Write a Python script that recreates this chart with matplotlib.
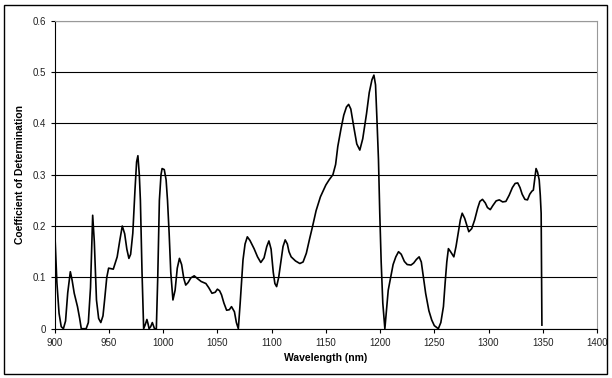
import matplotlib
matplotlib.use('Agg')
import matplotlib.pyplot as plt
from matplotlib.patches import Rectangle

plt.rcParams['font.family'] = ['Liberation Sans', 'DejaVu Sans']

wavelength = [900, 902, 904, 906, 908, 910, 912, 914.4, 916, 918, 921, 923, 924.5, 927, 929,
              931, 933, 935, 936.5, 938.5, 940.5, 942.5, 944.5, 946, 948, 949.7, 952, 954,
              957.6, 960, 962.3, 964.5, 966.5, 968.4, 970, 972, 974, 975.5, 976.7, 978, 979,
              980.5, 982, 983.5, 985, 986, 987, 988.5, 990, 991, 992, 993.7, 995, 996.5, 998,
              999, 1001, 1002.7, 1004, 1005.5, 1007, 1009, 1011, 1013, 1015, 1017, 1019, 1020.8,
              1023, 1025.5, 1028.6, 1032, 1035, 1039.4, 1042, 1045, 1048, 1050, 1052, 1053.8,
              1056, 1058.5, 1061, 1063, 1065.7, 1067.5, 1069.3, 1071, 1072.5, 1073.6, 1075.5,
              1077.6, 1080, 1083.8, 1087, 1090, 1093, 1095.5, 1097.5, 1099.5, 1101.5, 1103,
              1104.6, 1106.5, 1108.5, 1110.5, 1112.5, 1114.5, 1116, 1118, 1122, 1126, 1129,
              1132, 1135, 1137.7, 1141, 1145, 1150, 1153, 1156.5, 1159, 1161, 1164, 1166.5,
              1169, 1171, 1173, 1176, 1178.5, 1181.3, 1184, 1187.5, 1190, 1192.5, 1194.3, 1195.8,
              1197, 1198.5, 1199.7, 1201, 1202.5, 1204.4, 1206, 1207.5, 1209.8, 1212, 1214.5,
              1217, 1219.5, 1222.4, 1225, 1228.5, 1231, 1233.5, 1236, 1238, 1240, 1242, 1245,
              1247.6, 1250, 1253.7, 1256, 1258.4, 1260, 1261.5, 1263, 1265, 1268, 1270, 1272,
              1274, 1275.7, 1278, 1281.8, 1284.5, 1287.2, 1290, 1292, 1294.4, 1297, 1299,
              1301.6, 1304, 1307, 1309.9, 1313, 1316, 1319, 1322, 1324.5, 1326.9, 1329, 1331,
              1333.5, 1335.9, 1338, 1340, 1341.3, 1342.5, 1343.8, 1345.2, 1346.7, 1347.7,
              1348.5, 1349.2]
r2 = [0.192, 0.09, 0.03, 0.004, 0.0, 0.015, 0.07, 0.111, 0.095, 0.069, 0.043, 0.02, 0.0, 0.0,
      0.0, 0.012, 0.08, 0.221, 0.17, 0.056, 0.02, 0.012, 0.025, 0.056, 0.1, 0.118, 0.117, 0.116,
      0.14, 0.172, 0.2, 0.185, 0.155, 0.137, 0.145, 0.186, 0.27, 0.325, 0.337, 0.3, 0.25,
      0.11, 0.0, 0.008, 0.018, 0.01, 0.0, 0.004, 0.012, 0.006, 0.0, 0.0, 0.1, 0.25, 0.3,
      0.312, 0.31, 0.29, 0.25, 0.186, 0.11, 0.056, 0.075, 0.118, 0.137, 0.125, 0.098, 0.085,
      0.09, 0.099, 0.103, 0.097, 0.092, 0.088, 0.08, 0.069, 0.071, 0.077, 0.074, 0.066,
      0.05, 0.036, 0.037, 0.043, 0.033, 0.012, 0.0, 0.05, 0.1, 0.134, 0.165, 0.179, 0.172,
      0.156, 0.14, 0.129, 0.138, 0.16, 0.171, 0.155, 0.11, 0.088, 0.082, 0.1, 0.13, 0.16,
      0.173, 0.165, 0.15, 0.14, 0.132, 0.127, 0.13, 0.147, 0.175, 0.199, 0.23, 0.257, 0.28,
      0.29, 0.3, 0.32, 0.355, 0.39, 0.416, 0.432, 0.437, 0.428, 0.39, 0.36, 0.348, 0.37,
      0.419, 0.46, 0.485, 0.494, 0.475, 0.413, 0.33, 0.225, 0.13, 0.05, 0.0, 0.04, 0.075, 0.101,
      0.125, 0.14, 0.15, 0.145, 0.131, 0.125, 0.124, 0.128, 0.135, 0.14, 0.13, 0.1, 0.069,
      0.035, 0.017, 0.006, 0.0, 0.012, 0.043, 0.09, 0.13, 0.156, 0.15, 0.14, 0.16, 0.186,
      0.212, 0.225, 0.215, 0.189, 0.195, 0.212, 0.235, 0.248, 0.252, 0.245, 0.236, 0.232,
      0.24, 0.249, 0.251, 0.247, 0.248, 0.26, 0.275, 0.283, 0.284, 0.275, 0.262, 0.252,
      0.251, 0.262, 0.268, 0.27, 0.29, 0.312, 0.305, 0.29, 0.26, 0.225, 0.007]

fig = plt.figure(figsize=(6.12, 3.78), dpi=100)
ax = fig.add_axes([0.0894, 0.1304, 0.8861, 0.8148])

ax.plot(wavelength, r2, color='black', lw=1.2)

ax.set_xlim(900, 1400)
ax.set_ylim(0, 0.6)
ax.set_xticks(range(900, 1401, 50))
ax.set_yticks([0, 0.1, 0.2, 0.3, 0.4, 0.5, 0.6])
ax.set_yticklabels(['0', '0.1', '0.2', '0.3', '0.4', '0.5', '0.6'])
ax.yaxis.grid(True, color='black', lw=0.8)
ax.set_axisbelow(True)
ax.tick_params(labelsize=7, length=3, width=0.8, colors='black', labelcolor='#222222')
for s in ['top', 'right']:
    ax.spines[s].set_color('#999999')
for s in ['left', 'bottom']:
    ax.spines[s].set_color('black')
ax.set_xlabel('Wavelength (nm)', fontsize=7.5, fontweight='bold', labelpad=4)
ax.set_ylabel('Coefficient of Determination', fontsize=7.5, fontweight='bold', labelpad=5)

fig.patches.append(Rectangle((0.007, 0.011), 0.985, 0.977, transform=fig.transFigure,
                             fill=False, edgecolor='black', lw=1.0))

fig.savefig('out.png', dpi=100)
